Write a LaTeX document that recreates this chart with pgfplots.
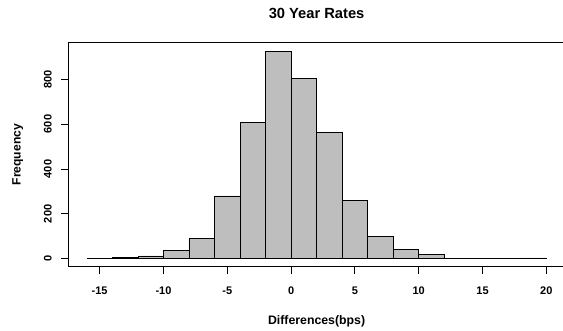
\documentclass[border=0pt]{standalone}
\usepackage{pgfplots}
\pgfplotsset{compat=1.18}
\usepackage{fontspec}
\setmainfont{Liberation Sans}
\definecolor{histgray}{RGB}{190,190,190}
\begin{document}
\begin{tikzpicture}
\path[use as bounding box] (0,0) rectangle (563pt,331pt);
\begin{axis}[
  at={(68.5pt,64.3pt)}, anchor=south west,
  scale only axis, width=496.2pt, height=224pt,
  xmin=-17.44, xmax=21.44, ymin=-35, ymax=962,
  axis line style={line width=1pt},
  tick align=outside, major tick length=7pt,
  xtick pos=lower, ytick pos=left,
  xtick={-15,-10,...,20}, ytick={0,200,...,800},
  every tick/.style={black, line width=0.8pt},
  /pgf/number format/assume math mode=true,
  tick label style={font=\fontsize{11}{13}\selectfont\bfseries, inner sep=0pt},
  xticklabel style={anchor=base},
  yticklabel style={rotate=90, anchor=base},
  xticklabel shift=20.6pt,
  yticklabel shift=9.8pt,
  title={30 Year Rates},
  title style={font=\fontsize{14.7}{16}\selectfont\bfseries, inner sep=0pt,
    at={(axis description cs:0.5,1.082)}, anchor=base, yshift=0pt},
  xlabel={Differences(bps)},
  xlabel style={font=\fontsize{12.3}{14}\selectfont\bfseries, inner sep=0pt,
    at={(axis description cs:0.5,-0.260)}, anchor=base},
  ylabel={Frequency},
  ylabel style={font=\fontsize{12.1}{14}\selectfont\bfseries, inner sep=0pt,
    at={(axis description cs:-0.0963,0.5)}, anchor=base},
]
% counts per 2 bps bin, left edges from -16 to 18
\addplot[ybar interval, fill=histgray, draw=black, line width=0.7pt] coordinates {
  (-16,3) (-14,7) (-12,13) (-10,38) (-8,89) (-6,280) (-4,609) (-2,924)
  (0,803) (2,564) (4,259) (6,100) (8,40) (10,18) (12,0) (14,0) (16,0)
  (18,4) (20,4)
};
\end{axis}
\end{tikzpicture}
\end{document}
